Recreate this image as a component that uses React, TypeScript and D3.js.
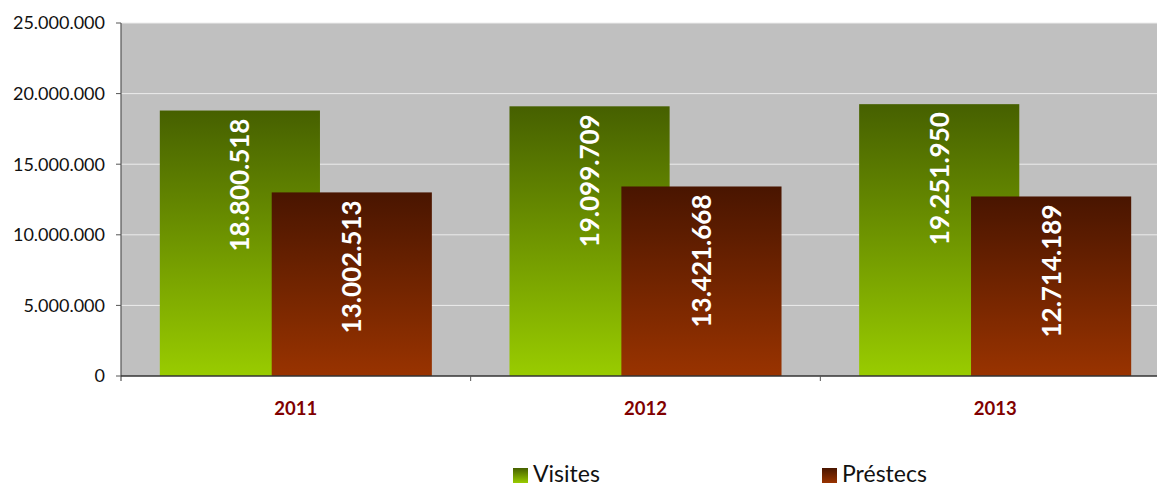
import React from "react";
import * as d3 from "d3";

const categories = ["2011", "2012", "2013"];
const seriesNames = ["Visites", "Préstecs"];
const visites = [18800518, 19099709, 19251950];
const prestecs = [13002513, 13421668, 12714189];
const yTicks = [0, 5000000, 10000000, 15000000, 20000000, 25000000];

const W = 1157, H = 488;
const M = { left: 121, top: 23, right: 1170, bottom: 376 };
const FONT = "Lato, 'Open Sans', sans-serif";

const loc = d3.formatLocale({ decimal: ",", thousands: ".", grouping: [3], currency: ["", ""] });
const fmt = loc.format(",d");

export default function App() {
  const x = d3.scaleBand<string>().domain(categories).range([M.left, M.right]).paddingInner(0).paddingOuter(0);
  const y = d3.scaleLinear().domain([0, 25000000]).range([M.bottom, M.top]);
  const bw = x.bandwidth();
  const barW = bw * 0.458;
  const overlapStep = bw * 0.32;
  const groupW = barW + overlapStep;
  const series = [visites, prestecs];
  const grads = ["gV", "gP"];

  return (
    <svg width={W} height={H} style={{ position: "absolute", left: 0, top: 0 }} fontFamily={FONT}>
      <defs>
        <linearGradient id="gV" x1="0" y1="0" x2="0" y2="1">
          <stop offset="0" stopColor="#466000" />
          <stop offset="1" stopColor="#99cc00" />
        </linearGradient>
        <linearGradient id="gP" x1="0" y1="0" x2="0" y2="1">
          <stop offset="0" stopColor="#491500" />
          <stop offset="1" stopColor="#993300" />
        </linearGradient>
      </defs>
      <rect x={M.left} y={M.top} width={M.right - M.left} height={M.bottom - M.top} fill="#c0c0c0" />
      {yTicks.filter(t => t > 0).map(t => (
        <line key={t} x1={M.left} x2={M.right} y1={y(t)} y2={y(t)} stroke="#ececec" strokeWidth={1} />
      ))}
      {categories.map((c, i) => {
        const x0 = (x(c) as number) + (bw - groupW) / 2;
        return series.map((s, j) => {
          const bx = x0 + j * overlapStep;
          const by = y(s[i]);
          const cx = bx + barW / 2;
          return (
            <g key={c + j}>
              <rect x={bx} y={by} width={barW} height={M.bottom - by} fill={`url(#${grads[j]})`} />
              <text
                transform={`translate(${cx + 9.5},${by + 8}) rotate(-90)`}
                textAnchor="end"
                fill="#ffffff"
                fontWeight="bold"
                fontSize={26}
              >
                {fmt(s[i])}
              </text>
            </g>
          );
        });
      })}
      <line x1={M.left} x2={M.left} y1={M.top} y2={M.bottom + 5} stroke="#555" strokeWidth={1.2} />
      <line x1={M.left} x2={M.right} y1={M.bottom} y2={M.bottom} stroke="#333" strokeWidth={1.5} />
      {yTicks.map(t => (
        <g key={t}>
          <line x1={M.left - 5} x2={M.left} y1={y(t)} y2={y(t)} stroke="#555" />
          <text x={M.left - 16} y={y(t)} dy="0.35em" textAnchor="end" fontSize={18} fill="#111">
            {fmt(t)}
          </text>
        </g>
      ))}
      {categories.map((c, i) => (
        <g key={c}>
          {i > 0 && <line x1={x(c) as number} x2={x(c) as number} y1={M.bottom} y2={M.bottom + 5} stroke="#555" />}
          <text x={(x(c) as number) + bw / 2} y={409} dy="0.35em" textAnchor="middle" fontSize={18.5} fontWeight="bold" fill="#800000">
            {c}
          </text>
        </g>
      ))}
      {seriesNames.map((n, j) => {
        const lx = [513, 822][j];
        return (
          <g key={n}>
            <rect x={lx} y={468} width={15} height={15} fill={`url(#${grads[j]})`} />
            <text x={lx + 20} y={474} dy="0.35em" fontSize={23} fill="#111">{n}</text>
          </g>
        );
      })}
    </svg>
  );
}
